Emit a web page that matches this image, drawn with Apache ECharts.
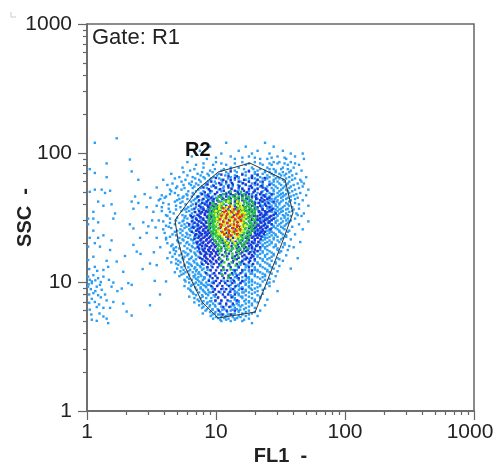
<!DOCTYPE html>
<html><head><meta charset="utf-8"><style>html,body{margin:0;padding:0;background:#fff}#c{width:494px;height:465px}</style>
<script src="https://cdn.jsdelivr.net/npm/echarts@6/dist/echarts.min.js"></script></head><body><div id="c"></div>
<script>
const axisTicks = {1:'1',10:'10',100:'100',1000:'1000'};
const xName = 'FL1  -';
const yName = 'SSC  -';
const gateText = 'Gate: R1';
const regionText = 'R2';
const gateFL1 = [4.81, 7.25, 10.4, 18.3, 34.3, 39.5, 32.5, 20.1, 10.4, 7.79, 5.75, 5.07, 4.81];
const gateSSC = [30.2, 52.6, 71.2, 83.6, 61.8, 34.3, 20.1, 5.85, 5.26, 7.0, 13.1, 21.2, 30.2];
// scattered events left of the main population: [FL1, SSC]
const leftPoints = [
[1.15,120],[1.7,130],[1.42,83],[2.15,89],[2.22,72],[1.05,75],[1.15,70],[1.42,65],[1.51,51],[1.38,49],[1.3,52],[1.15,52],[1.05,50],
[2.36,46],[2.22,42],[1.22,42],[1.34,39],[1.55,40],[1.12,35],[1.65,34],[2.5,41],[2.29,37],[2.9,38],[3.47,54],[3.47,39],[3.27,35],
[1.02,31],[1.12,31],[1.22,29],[1.6,31],[2.15,28],[2.29,26],[2.73,29],[2.99,27],[1.02,28],[1.12,25],[1.34,23],[1.55,21],[1.22,22],
[2.58,22],[2.9,24],[3.47,22],[1.05,22],[1.15,20],[1.26,18.8],[1.51,17.7],[1.02,18.8],[2.29,19.4],[2.43,17.2],[1.97,15.9],[1.7,14.4],
[1.42,14.6],[1.12,15.7],[1.02,14.8],[1.15,13.1],[1.46,13.1],[3.08,13.9],[3.47,13.5],[1.34,12.4],[1.91,12],[2.09,9.8],[2.22,9.5],
[1.86,8.9],[1.55,9.2],[1.02,11],[1.12,11.3],[1.22,10.7],[1.34,11],[1.09,9.8],[1.19,9.2],[1.02,9.2],[1.3,8.7],[1.12,8.2],[1.22,7.9],
[1.42,7.2],[1.6,7],[1.15,7],[1.05,6.1],[1.19,6.4],[1.34,6.3],[1.51,6.3],[1.91,6.8],[3.08,6.6],[1.09,5.1],[1.19,5],[1.34,5.4],[1.46,4.8],
[2.03,5.9],[2.22,5.5],[3.68,8],[1.05,10.4],[1.09,10.1],[1.16,10.3],[1.03,9.6],[1.26,9.5],[1.07,8.8],[1.16,8.5],[1.04,8],[1.28,7.6],
[1.09,7.4],[1.04,6.9],[1.24,6.7],[1.38,8],[1.28,10],[1.48,10.4],[1.6,9.9],[1.08,5.6],[1.25,5.7],[1.42,5.2],[1.72,8.5],[1.04,12.6],[1.2,12.2],
[2.6,16.5],[3.2,30],[2.8,48],[3.3,17],[2.5,62],[3.4,26.5],[3.1,45],[2.7,12.6],[3.35,10.2]
];
// each row: SSC value, then the FL1 values of the events on that row
const lightRows = [
[120,12,24],[112,9,17,28],[104,7.5,15,21,33],[99,11,19,26,38,47],[94,6.5,13,18,30,41],
[90,8.5,14,22,25,35,48],[85,6,10,16,20,28,31,38],[81,7,9.5,12,17,23,27,36,44],[77,5.5,8,13,15,19,25,33,40],
[73,6.3,9,11,14,18,21,24,29,38,46],[69,4.5,7.2,8.6,10.5,12.5,16,20,23,27,31,35,42],[65,5.2,6.6,8,9.6,13,15,19,22,26,30,37,50],
[62,3.9,5.8,7.4,9,11,14,17,21,24,28,33,39,45],[58,4.6,6.2,7,8.4,10,12,16,19,23,27,31,36,43,48],
[55,5,6.8,7.8,9.2,11.5,13.5,18,22,25,29,34,38,47],[52,4.4,5.4,7.3,8.8,10.5,15,20,24,28,32,35,41,52],
[49,4.8,6.6,7.6,9,12,17,21,26,30,33,37,45],[47,3.8,5.1,6,8.2,11,14,23,27,31,34,40,50],
[45,4,5.5,7.1,8.5,10,19,25,29,32,36,43],[43,3.6,5,6.7,7.8,9.3,22,26,30,33,38,47],
[41,3.9,5.3,7,8.1,21,24,28,31,35,41],[39,4.9,6.4,7.4,8.8,23,27,29,34,37,52],
[37,4.3,5.9,7.7,25,28,32,36,44],[35.5,3.8,5.4,6.2,8.3,26,30,33,39],
[34,4.7,6.5,7.5,24,29,31,35,42,48],[32.5,4.2,5.8,6.8,27,30,34,38,46],
[31,4.4,6,7,8,25,28,32,36,41],[29.5,3.9,5.5,7.3,26,29,33,37,52],
[28,4.8,5.7,6.6,24,27,31,35,44],[26.8,4.3,5.9,6.9,25,28,32,39],
[25.6,3.9,5.3,6.2,7.4,26,30,34,47],[24.5,4.8,6.5,24,27,31,36],
[23.4,4.6,6,7.1,25,29,33,41],[22.4,4.4,5.8,6.8,23,26,30,35],
[21.4,4.1,5.5,6.4,24,28,32,38],[20.4,5.1,6,7,25,27,31,45],
[19.5,4.6,6.2,7.2,23,26,29,34],[18.6,3.7,4.9,6.6,24,28,33,40],
[17.7,4.7,6.3,7.4,22,25,30,36],[16.9,4.4,5.8,6.8,23,27,31],
[16.1,5.2,6,7,21,24,28,35],[15.3,4.2,5.5,6.4,7.6,22,26,30,43],
[14.6,5.1,6.7,20,23,27,33],[13.9,4.9,6.2,7.1,21,25,29],
[13.3,5.7,6.5,7.5,19,22,26,31],[12.7,5,6.8,8,20,24,28,38],
[12.1,5.3,6.1,7,18,21,25,30],[11.6,5.6,7.3,19,23,27],
[11.1,5.2,6.7,7.7,17,20,24,29],[10.6,6.2,7,8.1,18,22,26],
[10.1,4.1,5.8,7.4,16,19,23,28],[9.7,6.8,7.7,17,21,25],
[9.3,5.7,6.4,8.2,15,18,22,26],[8.9,6.1,7.6,16,20,24],
[8.5,6.4,8,14,17,21,30],[8.1,6.7,8.4,15,19,23],
[7.7,6.2,7.9,13.5,16,18,22],[7.3,7.2,14,17,20,25],
[6.95,6.8,8.6,15,18,21],[6.6,7.4,9,13.5,16,19,24],
[6.3,7.8,14,17,20],[6,8.3,13,15,18,22],
[5.7,7.9,9.8,14,16,19],[5.45,9.1,12,15,17,21],
[5.2,9.5,12.5,14,18],[4.98,11,13,16],[4.8,19]
];
const lightMoreRows = [
[92,10,16,20,27,34],[83,8,11,14,18,22,26,30,34,41],[75,6.8,9.8,11.5,13,16.5,19.5,22,26,28,32,36],[71,5.6,7.8,9.4,12,14.5,17,20,24,26,29,33,37],
[67,6,7.6,8.8,10.2,11.8,14,17,19,21,25,28,32,34,39],[63.5,4.8,6.9,8.2,9.2,10.6,12.4,15,18,20,23,25,29,31,35,41],
[60,5.4,6.5,7.6,8.7,9.8,11.2,13,15.5,18,20.5,22,26,28,30,34,37,46],[56.5,4.2,5.6,6.4,7.3,8.3,9.5,10.8,12.6,14.8,17,20,23,26,28,32,35,40],
[53.5,4.9,5.7,6.6,7.6,8.5,9.9,11.4,13.2,16,19,21,24,27,30,33,37,44],[50.5,4.5,6.1,7,8,9.3,11,12.8,14.5,18,20,23,25,28,31,36,39],
[48,4.4,5.9,6.7,7.7,8.7,9.9,11.3,13,15.5,19,22,24.5,28,32,35,42],[46,4.1,5.6,6.5,7.4,8.3,9.4,10.7,12.5,16,18,20,24,26,30,33,38],
[44,3.7,5.2,6,6.9,7.9,8.9,10.2,11.5,13,17,21,23,27,28.5,35,41],[42,4.8,5.5,6.4,7.3,8.4,9.6,11,18,20,22.5,25,27,29.5,32,37],
[40,4.3,5.8,6.6,7.6,8.5,9.8,20,22,24,26,29,31,36,44],[38,3.8,5.3,6.1,7,7.9,9,20,22.5,25,26.5,30,33,39],
[36.5,4.9,5.7,6.5,7.3,8.6,9.5,21,23,26,29,31,35,40],[35,4.4,5.9,6.8,7.7,8.9,22,24,27,28.5,32,37],
[33,4.1,5.5,6.3,7.2,8.2,9.2,23,25,28,30,33,36,43],[31.5,5,5.7,6.5,7.5,8.6,22,24,26,29,34],
[30,3.6,4.9,5.6,6.6,7.6,8.8,21,23,25,27,30,35,38],[28.7,4.4,5.2,6,6.9,7.8,22,24,26,29,32,36],
[27.3,4.1,5.4,6.2,7.1,8.2,21,23,25,28,30,34],[26.2,4.5,5.7,6.4,7.3,8.4,22,24,27,29,33],
[25,5,5.5,6.3,7.1,8,20,22,25,26,31,37],[24,4,5.3,5.9,6.7,7.6,8.6,21,23,26,28,32],
[23,4.9,5.5,6.3,7.4,8.3,20,22,24,27,29,35],[22,4.1,5.2,6.1,7,7.9,19,21,24,25,28,33],
[21,5,5.6,6.6,7.5,8.4,20,22,23,26,30],[20,4.2,5.3,5.9,6.7,7.7,18,20,22,24,27,34],
[19,4.5,5.7,6.5,7.3,8.2,19,21,23,25,29,37],[18.2,4.7,5.2,6,6.9,7.8,18,20,22,24,30],
[17.3,4.9,5.6,6.4,7.2,8.1,17.5,19,21,23,26,32],[16.5,4.8,5.4,6.1,6.9,7.7,8.6,18,20,22,25,28],
[15.7,4.6,5.7,6.5,7.3,8.3,17,19,21,24,27],[15,4.9,5.6,6.2,7,7.9,16.5,18,20,23,25,31],
[14.2,4.5,5.3,6,6.8,7.7,8.4,16,18,21,24,29],[13.6,5.1,5.7,6.4,7.2,8,15.5,17,19,22,26],
[13,5.4,6.1,6.9,7.6,8.5,15,17,20,23,27],[12.4,5.6,6.3,7.1,7.8,9,14.5,16,18,21,25],
[11.9,4.8,5.8,6.6,7.4,8.2,14,16,19,22,26],[11.4,5.4,6.2,6.9,7.6,8.6,13.5,15,17,20,24],
[10.9,6,6.8,7.3,8.1,9,14,16,18,21,23],[10.4,5.7,6.5,7.2,7.9,8.8,13.5,15,17,19,24],
[9.9,6.2,7,7.7,8.4,9.3,14,15.5,18,20,26],[9.5,6.5,7.3,8,8.9,13,15,17,19,22],
[9.1,6.9,7.6,8.4,9.4,14,16,18,21],[8.7,6.3,7.1,7.9,8.7,9.8,13,15,17,19,23],[8.3,6.6,7.4,8.2,9.1,14,16,18,20],
[7.9,7,7.8,8.7,9.6,13,15,17,21],[7.5,6.8,7.6,8.4,9.2,10.3,14,16,19,22],[7.1,7.4,8,9,9.9,13,15,18,20],
[6.8,7.8,8.5,9.5,10.5,14.5,17,19],[6.45,8,8.9,9.9,11,13,15.5,18],[6.15,8.5,9.4,10.3,11.6,14.5,16.5],[5.85,9,9.9,10.8,12.2,15,17,20],
[5.6,9.4,10.4,11.4,13,16,18],[5.35,10,11,11.8,13.5,15.5],[5.1,10.8,12,14,16.5]
];
const lightCoreRows = [
[13.4,9.2,10.6,12.8,14.8,17.8],[12.4,8.6,11.6,13.6,16.8,20],[11.6,9.4,11,14.2,17,18.5],[10.8,8.2,10.2,12.6,14.6,17.4],[10.1,9.6,11.6,13,16.6,18],
[9.5,8.6,10.4,12.2,14.8,17],[8.9,9.4,11.4,13,15.4,18.6],[8.3,8.8,10.8,12.6,14.6,16.4],[7.7,9.8,11.6,13.4,15.6],[7.1,9.2,11,12.8,14.4,16.6],
[6.6,9.8,12,13.8,15],[6.1,9.4,11.2,13.4,15.4],[5.6,10.7,12.4,13.6],[5.25,10.4,11.6,14.6]
];
const darkRows = [
[72,13,18],[68,11,16,21],[66,12.5,14.5,19],[64,10,14,19,24],[62,11.4,13,16.5,21],[60,9.2,12,15,18,23],[58.5,10.6,13.3,16.2,20],[57,8.6,11,13.5,17,21,26],[55.5,9.6,12.4,15.2,18.6,22.5],[54,8,10,12.5,15,19,23],
[52.5,8.8,10.8,13.2,16,18,21,24.5],[51,9,11.5,14,16.5,20,25],[49.5,8.2,10.2,12.6,14.8,17.4,19.5,22.5],[48,7.8,9.8,12,13,15,18,22,27],[47,8.6,10.8,13.6,16,17,20.5,23.5],[46,7.2,8.8,10.5,12,14,16,19,24],[45,9.2,11.2,12.8,15,17.2,20.5,22.5,26],[44,8,9.6,11.2,13,15,17.5,20.5,25],
[43,7.4,8.7,10.2,12,14.2,16,18.5,22,23.8],[42,8.5,9.5,10.5,12,14,16.5,19,23,28],[41,7.8,9,11,13,15,17.4,20,21.5,25.5],[40,7,8.2,9,10,11,13,15,18,20,24],[39,7.4,8.6,9.4,10.4,12,14,16.2,19,22,24.5],[38,7.6,8.7,9.7,11,12.5,14.5,17,21,26],
[37,6.8,8,9,10.2,12.4,14,16,18.4,20,23,27.5],[36.2,8,8.9,9.8,11.6,13.4,15.5,18,20,23,27],[35.4,7.4,8.4,9.3,10.8,12.8,14.8,17,19,21.5,24,26],[34.8,6.9,7.8,8.6,9.4,11.2,13.6,16.5,19,21.5,25],[34,7.6,8.2,9,10.2,12.4,15,18,20,22.5,24.5,29],[33.2,7.2,8.2,9,11.4,13.8,17,20,22,24,28],
[32.5,6.4,7.4,8.6,9.6,12,14.6,18.4,19.6,21,23.5,26.5],[31.8,6.6,7.6,8.5,9.2,10.8,13.2,18,20.5,23,26],[31,7,7.9,9,11.8,14.2,16.6,19,21,22,25,28],[30.3,7.1,8,8.8,10.4,12.6,15.4,19,21,24,27],[29.5,6.5,7.4,8.3,9.4,11.4,13.8,18,20,22,23.5,26],[28.8,6.8,7.7,8.4,9.1,12.2,14.8,18.5,20,22.5,25.5],
[28,6.2,7.2,8,9,10.6,13.2,16.4,19,21,24,27],[27.4,7.3,8.1,8.9,11.6,14.6,19.5,21.5,23.5],[26.8,6.6,7.7,8.5,9.4,12.4,15.4,18.5,20.5,22.5,25],[26.2,6.7,7.5,8.3,9,10.8,13.4,18,20,22,24.5],[25.6,7.2,8,8.8,9.6,11.8,14.2,19.5,21,23,26.5],[25,7,7.9,8.7,12.8,15.6,19,21,23],[24.5,6.5,7.4,8.3,9.2,11,13.8,18,20,22.5,24],[24,7.5,8.2,8.9,9.4,12,15,17.5,20,22],
[23.5,7,7.8,8.6,9.7,11.6,14.4,18.6,21,23.5],[23,6.9,7.7,8.5,9.2,13,16,18.5,20.5,21.5],[22.5,7.4,8.2,9,10.6,12,15,17.6,19.5,22.5],[22,7.3,8,8.8,11,13.6,17,19,21],[21.5,6.8,7.7,8.5,9.4,12.4,14.8,17.8,20,22.2],[21,7.6,8.4,9.1,9.7,11.2,13,16,18,20],[20.5,7.2,8,8.9,10,12,14.2,17,19,21.3],[20,7.1,7.9,8.7,9.4,11.4,13.4,15.5,17.5,19.5],
[19.5,7.5,8.3,9.6,10.4,12.4,14.8,16.6,18.6,21],[19,7.8,8.5,9.2,10,11.6,13.2,16,18,20.5],[18.6,7.2,8.9,9.8,12.6,15,17,19,22],[18.2,7.4,8.2,9,11,13.4,14.5,16.5,19],[17.8,7.9,8.7,9.5,10.3,12,15.4,17.6,20],[17.4,8,8.8,9.6,10.4,13,15,17,21],[17,7.5,8.3,9.1,10,11.8,14.4,16,18.4,19.8],[16.6,7.6,8.4,9.3,10,12.6,15.5,18],
[16.2,8.2,9,10.3,11.2,14.5,16.6,19],[15.8,8.1,9,9.8,12.2,14,16,19.5],[15.4,7.5,8.4,9.4,10.6,13.4,15,17.4,18.6],[15,7.8,8.6,9.5,10.5,12.2,14.5,17,20],[14.6,8.2,9,10,11.2,13.6,16,18.4],[14.2,8.4,9.2,10.1,11,13.5,15.5,18],[13.8,7.8,8.7,9.6,10.6,12.6,14.5,16.5,19.4],[13,8.6,9.4,10.3,11.4,13,15,18],[12.3,9.1,10,11,12.2,14,16,19],[11.7,8.4,9.7,10.6,11.8,13.3,15.5],[11.2,9,9.9,11.2,12.5,14.5,17],
[10.7,9.4,10.3,11.5,13,15],[10.2,8.8,10,11,12.3,13.8,16],[9.8,9.6,10.7,11.8,13.4,15.5],[9.3,9.2,10.2,11.2,12.6,14.2],[8.8,9.8,11,12,13.6,16],[8.4,9.5,10.5,11.6,12.9],[8,10,11.3,12.4,14],[7.6,10.4,11.8,13.2],[7.2,9.9,11,12.3,14.6],[6.8,10.8,12,13.5],[6.4,11.4,12.7],[6,10.5,12.1,14],[5.6,11.2,13]
];
const greenRows = [
[50,13,15.6],[48,11.6,14.2,16.4],[46,10.6,13.5,15,17.2],[45,11,12.6,14.2,16,18],[44,10.2,12.5,14,16],[43,11.6,13,15,17,18.8],[42,10.5,12,13,15,16.6],[41,9.4,11.2,12.6,14.6,17.6,19.4],[40,9.6,11.5,14,16.5,18.4],[39,10,11,13,15.2,17.4,19.6],[38,9.2,10.3,12,15.5,16.6,18],[37.2,9.6,11,14.8,17,18.6,20.4],[36.4,9,10,14.5,16.5,19],
[35.7,9.6,10.6,12.6,15.8,17.6,20],[35,9.5,10.4,15.2,17,18.5],[34.3,9,9.9,10.8,13.6,16.4,18,19.4],[33.6,9.2,9.9,12.2,16,17.8,20],[32.9,8.8,9.6,10.6,14.6,15.6,17.2,19],[32.2,9.6,10.3,12.8,16.8,18.6],[31.5,8.9,9.8,10.5,15.8,17.8,20.4],[30.8,9.4,10.1,13,17.2,19.4],[30.1,8.8,9.7,10.3,11.6,16,18.2,20],[29.4,9.2,9.8,14.4,16.4,18.2],[28.7,8.7,9.5,10.4,12.6,17,18.8,20.6],
[28,9.5,10.2,13.6,17.4,19],[27.4,8.9,9.7,11.2,16.4,18.2,20],[26.8,9.3,10,13.8,16.2,18],[26.2,8.8,9.6,10.5,12.2,17,19],[25.6,9.7,10.4,15,16.8,18.8],[25.1,9,10,12.4,16,17.8,19.6],[24.6,9.5,10.2,13.4,15.8,17.5],[24.1,9.2,10,11.6,16.6,18.6],[23.6,9.8,10.6,14,16.4,18.4],[23.1,9.4,10.3,12.4,15.4,17.6],[22.6,10,10.8,15.5,17],[22.1,9.5,10.4,13,16,18],[21.6,10.3,11.2,14.8,16.2],[21.1,9.8,10.8,12,15.6,17.4],[20.6,10.6,11.6,13.4,15.2,17.2],[20.1,10,11,12.6,14.6,16.6],[19.6,10.2,11.8,13.8,15.8],[19.1,10.6,12.2,14.2,16.4],[18.7,11,12.5,14.4,16.4],[18.2,10.3,11.8,13.6,15.4,17.6],[17.8,10.7,12.2,13.2,15],[17.4,11,12.8,14.6,16.4],[16.6,10.6,12,13.4,15.2],[15.8,11.6,13.4,14.8],[15,10.8,12.4,14],[14.2,11.6,13.2,15.2],[13.4,11,12.4,14.2],[12.5,11.4,13],[11.4,11.2,12.8],[10.8,12.4]
];
const yellowRows = [
[42,12.4,14.6],[40.5,11,15.4],[39,10.6,13.2,14.8],[38,12.2,15.8],[37,10.6,13.4,16],[36.2,11.6,15],[35.5,10,13.4,15.2],[34.8,10.8,12.6,16.2],[34.2,11.4,14,16.8],[33.5,10,12.8,15.2],[32.8,11.6,13,14.8],[32.1,10.7,12.4,15.6,17],[31.4,11.4,14.2],[30.7,10.2,13,16.4],
[30,11.8,13.4,15],[29.3,10.7,14.2,15.8],[28.6,11.6,12.8,16],[28,10.3,13.4,15],[27.4,11.6,13.6,16.8],[26.8,11,14.2,15.8],[26.2,12.2,15.6],[25.6,11.2,12.8,14.6],[25,10.4,13.2,16],[24.5,11.6,14.8],[24,11,12.6,15.4],[23.5,10.5,13.4],[23,12,14.4],[22.5,11.2,15],[22,13,14.2],[21,11.8,13.4],[20,12.2,14],[18.8,12.6]
];
const redRows = [
[38.4,12.8],[37.4,11.4],[36.5,13.8],[35.6,12,15],[34.8,11.6,13.2],[34,14.8],[33.4,12.2,14.4],[32.7,11,16],[32,13.6,15.4],[31.3,12,15],[30.6,10.8,14],[29.9,12.8,15.6],[29.2,11.4,14.6],[28.5,12.2],[27.9,11,13.8],[27.3,12.8,14.8],[26.7,10.9,14.6],[26.1,12,13.6],[25.6,11.8,15.4],[25,12.6,14.4],[24.4,11.2,13.8],[23.9,12.6],[23.4,11.6,14.6],[22.9,13.2],[22.4,12.4]
];
const colors = {light:'#2a9df4', dark:'#1c34d6', green:'#2cc83c', yellow:'#f4f000', red:'#f03010'};
const toPoints = rows => rows.flatMap(r => r.slice(1).map(x => [x, r[0]]));
const scatter = (data,color) => ({type:'scatter',data,symbol:'rect',symbolSize:2.4,itemStyle:{color,opacity:1},silent:true,animation:false,clip:true});
const layer = (rows,color) => scatter(toPoints(rows),color);
const textBase = {fontFamily:'Liberation Sans'};
const axisBase = {type:'log',logBase:10,min:1,max:1000,nameLocation:'middle',nameMoveOverlap:false,
  axisLine:{show:true,onZero:false,lineStyle:{color:'#666',width:1.5}},
  axisTick:{show:true,length:9,lineStyle:{color:'#666',width:1.2}},
  minorTick:{show:true,splitNumber:9,length:4,lineStyle:{color:'#666',width:1.2}},
  splitLine:{show:false},minorSplitLine:{show:false},
  nameTextStyle:{...textBase,color:'#222',fontSize:20,fontWeight:'bold'}};
const labelBase = {...textBase,color:'#222',fontSize:21,showMinLabel:true,showMaxLabel:true,hideOverlap:false};
const tickText = v => axisTicks[Math.round(v)] || String(Math.round(v));
const chart = echarts.init(document.getElementById('c'),null,{renderer:'canvas'});
chart.setOption({
  animation:false,backgroundColor:'#fff',
  grid:{left:87,top:24,width:387,height:387,outerBoundsMode:'none',show:true,borderColor:'#666',borderWidth:1.5,backgroundColor:'transparent'},
  xAxis:{...axisBase,name:xName,nameGap:35,axisLabel:{...labelBase,margin:11,
    formatter:v=>Math.round(v)===1000?'{m|1000}':tickText(v),
    rich:{m:{...textBase,color:'#222',fontSize:21,padding:[0,8,0,0]}}}},
  yAxis:{...axisBase,name:yName,nameGap:52,nameRotate:90,axisLabel:{...labelBase,margin:15,formatter:tickText}},
  title:[
    {text:gateText,left:92,top:27,padding:0,textStyle:{...textBase,color:'#222',fontSize:22,fontWeight:'normal'}},
    {text:regionText,left:185,top:140,padding:0,textStyle:{...textBase,color:'#111',fontSize:20,fontWeight:'bold'}}
  ],
  graphic:[{type:'polyline',shape:{points:[[11,12],[11,17],[16,17]]},style:{stroke:'#ccc',fill:null,lineWidth:1}}],
  series:[
    scatter(leftPoints,colors.light),layer(lightRows,colors.light),layer(lightMoreRows,colors.light),layer(lightCoreRows,colors.light),layer(darkRows,colors.dark),layer(greenRows,colors.green),layer(yellowRows,colors.yellow),layer(redRows,colors.red),
    {type:'line',data:gateFL1.map((x,i)=>[x,gateSSC[i]]),symbol:'none',lineStyle:{color:'#333',width:1},silent:true,animation:false,z:5}
  ]
});
</script></body></html>
